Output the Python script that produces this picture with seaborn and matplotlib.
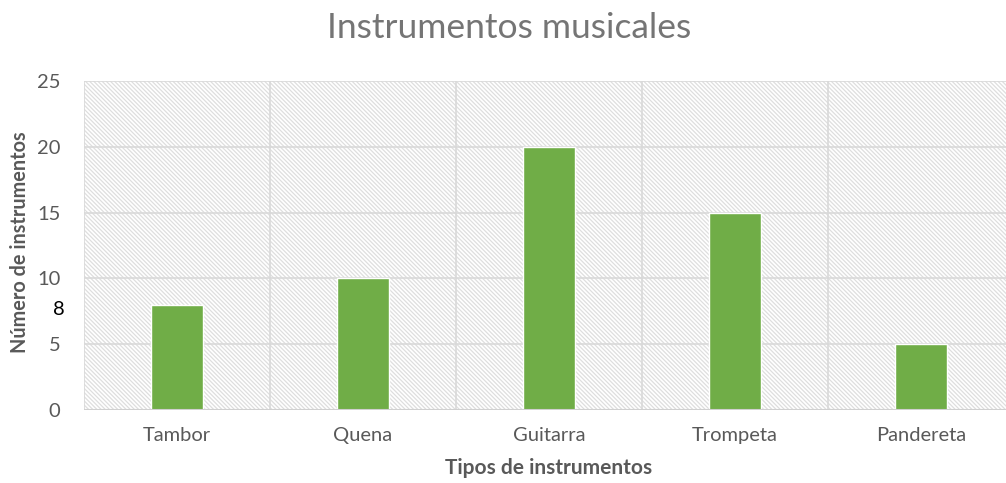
import matplotlib
matplotlib.use("Agg")
import matplotlib.pyplot as plt
import matplotlib.transforms as mtransforms
import seaborn as sns
import pandas as pd
from matplotlib.patches import Rectangle

categories = ["Tambor", "Quena", "Guitarra", "Trompeta", "Pandereta"]
values = [8, 10, 20, 15, 5]
yticks = [0, 5, 10, 15, 20, 25]
title = "Instrumentos musicales"
xlabel = "Tipos de instrumentos"
ylabel = "Número de instrumentos"
extra_label_value = 8

sns.set_theme(style="white")
plt.rcParams['font.family'] = ['Lato', 'DejaVu Sans']
plt.rcParams['hatch.linewidth'] = 0.9

fig = plt.figure(figsize=(10.06, 4.83), dpi=100)
ax = fig.add_axes([84/1006, 73/483, 922/1006, 329/483])

df = pd.DataFrame({"cat": categories, "val": values})

bg = Rectangle((0, 0), 1, 1, transform=ax.transAxes, facecolor="white",
               edgecolor="#dedede", hatch="\\" * 8, linewidth=0, zorder=0)
ax.add_patch(bg)

sns.barplot(data=df, x="cat", y="val", color="#70ad47", saturation=1,
            width=0.28, ax=ax, zorder=3)

ax.set_ylim(0, 25)
ax.set_xlim(-0.5, -0.5 + 922/186)
ax.set_yticks(yticks)
ax.set_yticklabels([str(v) for v in yticks])
for v in yticks[1:]:
    ax.axhline(v, color="#d9d9d9", lw=1.2, zorder=1)
for b in range(0, 6):
    ax.axvline(b - 0.5, color="#d9d9d9", lw=1.2, zorder=1)
ax.axhline(0, color="#d0d0d0", lw=1.5, zorder=4)

for s in ax.spines.values():
    s.set_visible(False)
ax.tick_params(axis="both", length=0, labelsize=14.5, labelcolor="#595959")
ax.tick_params(axis="x", pad=12)
ax.tick_params(axis="y", pad=17)

t = ax.text(-0.5, extra_label_value, str(extra_label_value),
            ha="right", va="center", fontsize=14.5, color="black")
t.set_transform(ax.transData + mtransforms.ScaledTranslation(-19/100, -5/100, fig.dpi_scale_trans))

ax.set_xlabel(xlabel, fontsize=15, fontweight="bold", color="#595959")
ax.set_ylabel(ylabel, fontsize=14.3, fontweight="bold", color="#595959")
ax.xaxis.set_label_coords((549 - 84) / 922, -(458 - 410) / 329)
ax.yaxis.set_label_coords(-(84 - 30) / 922, (410 - 242) / 329)

fig.text(509/1006, 1 - 28/483, title, ha="center", va="center",
         fontsize=25.5, color="#757575")

fig.savefig("out.png", dpi=100)
